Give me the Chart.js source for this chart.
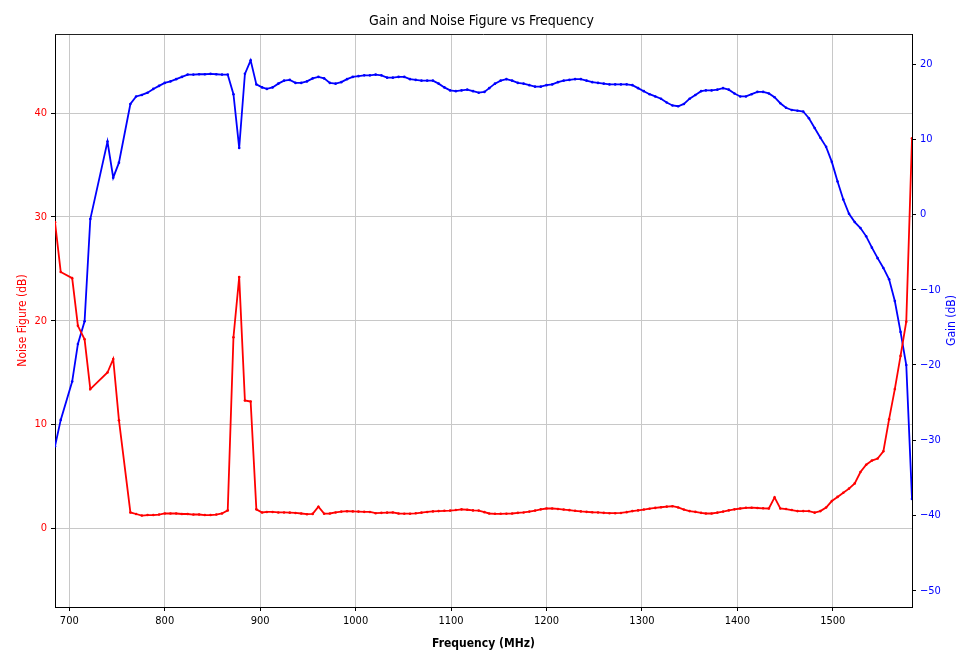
<!DOCTYPE html>
<html>
<head>
<meta charset="utf-8">
<script src="https://cdn.jsdelivr.net/npm/chart.js@4.4.1/dist/chart.umd.min.js"></script>
<style>
  html, body { margin: 0; padding: 0; background: #ffffff; }
  #wrap { width: 963px; height: 651px; }
</style>
</head>
<body>
<div id="wrap"><canvas id="c" width="963" height="651"></canvas></div>
<script>
// ---- Data ----
const freqMHz = [
  685,691,703,709,716,722,740,746,752,764,770,
  776,782,788,794,800,806,812,818,824,830,
  836,842,848,854,860,866,872,878,884,890,
  896,902,907,913,919,925,931,937,943,949,
  955,961,967,973,979,985,991,997,1003,1009,
  1015,1021,1027,1033,1039,1045,1051,1057,1063,1069,
  1075,1081,1087,1093,1099,1105,1111,1117,1123,1129,
  1135,1140,1146,1152,1158,1164,1170,1176,1182,1188,
  1194,1200,1206,1212,1218,1224,1230,1236,1242,1248,
  1254,1260,1266,1272,1278,1284,1290,1296,1302,1308,
  1314,1320,1326,1332,1338,1344,1350,1356,1362,1367,
  1373,1379,1385,1391,1397,1403,1409,1415,1421,1427,
  1433,1439,1445,1451,1457,1463,1469,1475,1481,1487,
  1493,1499,1505,1511,1517,1523,1529,1535,1541,1547,
  1553,1559,1565,1571,1577,1583
];

const noiseFigureDb = [
  29.5,24.7,24.1,19.5,18.2,13.4,15.0,16.3,10.4,1.5,1.35,
  1.2,1.25,1.25,1.3,1.4,1.4,1.4,1.35,1.35,1.3,
  1.3,1.25,1.25,1.3,1.4,1.7,18.4,24.2,12.3,12.2,
  1.8,1.5,1.55,1.55,1.5,1.5,1.48,1.45,1.4,1.33,
  1.36,2.05,1.38,1.4,1.5,1.58,1.62,1.6,1.58,1.56,
  1.55,1.43,1.46,1.48,1.5,1.4,1.38,1.38,1.42,1.48,
  1.55,1.6,1.63,1.66,1.68,1.73,1.8,1.76,1.7,1.68,
  1.53,1.4,1.37,1.37,1.38,1.4,1.46,1.5,1.58,1.68,
  1.8,1.88,1.88,1.84,1.78,1.72,1.66,1.6,1.56,1.52,
  1.5,1.46,1.43,1.43,1.45,1.53,1.63,1.7,1.78,1.86,
  1.94,2.0,2.06,2.1,1.98,1.78,1.63,1.56,1.46,1.4,
  1.4,1.48,1.58,1.7,1.8,1.88,1.95,1.96,1.93,1.9,
  1.88,2.95,1.88,1.83,1.73,1.63,1.63,1.63,1.48,1.63,
  1.98,2.6,3.0,3.4,3.8,4.3,5.4,6.1,6.5,6.7,
  7.4,10.5,13.4,16.6,19.9,37.6
];

const gainDb = [
  -30.8,-27.3,-22.2,-17.2,-14.2,-0.6,9.7,4.9,6.9,14.7,15.7,
  15.9,16.2,16.7,17.1,17.5,17.7,18.0,18.3,18.6,18.6,
  18.65,18.65,18.7,18.65,18.6,18.6,16.0,8.85,18.7,20.5,
  17.3,16.9,16.7,16.9,17.4,17.8,17.9,17.5,17.5,17.7,
  18.1,18.3,18.1,17.5,17.4,17.6,18.0,18.3,18.4,18.5,
  18.5,18.6,18.5,18.2,18.2,18.3,18.3,18.0,17.9,17.8,
  17.8,17.8,17.4,16.9,16.5,16.4,16.5,16.6,16.4,16.2,
  16.3,16.8,17.4,17.8,18.0,17.8,17.5,17.4,17.2,17.0,
  17.0,17.2,17.3,17.6,17.8,17.9,18.0,18.0,17.8,17.6,
  17.5,17.4,17.3,17.3,17.3,17.3,17.2,16.8,16.4,16.0,
  15.7,15.4,14.9,14.5,14.4,14.7,15.4,15.9,16.4,16.5,
  16.5,16.6,16.8,16.6,16.1,15.7,15.7,16.0,16.3,16.3,
  16.1,15.6,14.8,14.2,13.9,13.8,13.7,12.8,11.5,10.2,
  9.0,7.0,4.4,2.0,0.1,-1.0,-1.8,-2.9,-4.4,-5.8,
  -7.1,-8.6,-11.5,-15.6,-20.0,-37.8
];

const freqTicks = [700,800,900,1000,1100,1200,1300,1400,1500];
const nfTicks = [0,10,20,30,40];
const gainTicks = [-50,-40,-30,-20,-10,0,10,20];

// ---- Styling ----
const FONT = "'DejaVu Sans Condensed', 'Liberation Sans', 'DejaVu Sans', sans-serif";
const RED = '#ff0000';
const BLUE = '#0000ff';
const plain = v => String(v).replace('-', '\u2212');

const framePlugin = {
  id: 'frame',
  afterDraw(chart) {
    const { ctx, chartArea: a } = chart;
    ctx.save();
    ctx.strokeStyle = '#222';
    ctx.lineWidth = 1;
    ctx.beginPath();
    ctx.moveTo(a.left, Math.round(a.top) + 0.5);
    ctx.lineTo(a.right, Math.round(a.top) + 0.5);
    ctx.stroke();
    // right axis title, reading bottom to top
    ctx.fillStyle = BLUE;
    ctx.font = '12px ' + FONT;
    ctx.textAlign = 'center';
    ctx.textBaseline = 'middle';
    ctx.translate(952, (a.top + a.bottom) / 2);
    ctx.rotate(-Math.PI / 2);
    ctx.fillText('Gain (dB)', 0, 0);
    ctx.restore();
  }
};

new Chart(document.getElementById('c'), {
  type: 'line',
  data: {
    datasets: [
      {
        label: 'Noise Figure (dB)',
        data: freqMHz.map((f, i) => ({ x: f, y: noiseFigureDb[i] })),
        yAxisID: 'y',
        borderColor: RED,
        backgroundColor: RED,
        borderWidth: 1.8,
        pointRadius: 1.3,
        pointBorderWidth: 0,
        pointBackgroundColor: RED,
        tension: 0,
        fill: false
      },
      {
        label: 'Gain (dB)',
        data: freqMHz.map((f, i) => ({ x: f, y: gainDb[i] })),
        yAxisID: 'y1',
        borderColor: BLUE,
        backgroundColor: BLUE,
        borderWidth: 1.8,
        pointRadius: 1.3,
        pointBorderWidth: 0,
        pointBackgroundColor: BLUE,
        tension: 0,
        fill: false
      }
    ]
  },
  options: {
    responsive: false,
    animation: false,
    events: [],
    layout: { padding: 0 },
    plugins: {
      legend: { display: false },
      tooltip: { enabled: false },
      title: {
        display: true,
        text: 'Gain and Noise Figure vs Frequency',
        color: '#000',
        font: { family: FONT, size: 14, weight: 'normal' },
        padding: { top: 12.5, bottom: 4.7 }
      }
    },
    scales: {
      x: {
        type: 'linear',
        position: 'bottom',
        min: freqMHz[0],
        max: freqMHz[freqMHz.length - 1],
        afterBuildTicks: s => { s.ticks = freqTicks.map(v => ({ value: v })); },
        afterFit: s => { s.height = 44; },
        grid: { color: '#c8c8c8', lineWidth: 1, tickColor: '#000', tickLength: 4 },
        border: { color: '#000', width: 1 },
        ticks: { color: '#000', font: { family: FONT, size: 11 }, padding: 4, maxRotation: 0, autoSkip: false, callback: v => plain(v) },
        title: {
          display: true, text: 'Frequency (MHz)', color: '#000',
          font: { family: FONT, size: 12, weight: 'bold' },
          padding: { top: 0, bottom: 0 }
        }
      },
      y: {
        type: 'linear',
        position: 'left',
        min: -7.62,
        max: 47.65,
        afterBuildTicks: s => { s.ticks = nfTicks.map(v => ({ value: v })); },
        afterFit: s => { s.width = 55; },
        grid: { color: '#c8c8c8', lineWidth: 1, tickColor: '#000', tickLength: 4 },
        border: { color: '#000', width: 1 },
        ticks: { color: RED, font: { family: FONT, size: 11 }, padding: 4, callback: v => plain(v) },
        title: {
          display: true, text: 'Noise Figure (dB)', color: RED,
          font: { family: FONT, size: 12 },
          padding: { top: 15.5, bottom: 0 }
        }
      },
      y1: {
        type: 'linear',
        position: 'right',
        min: -52.17,
        max: 24.0,
        afterBuildTicks: s => { s.ticks = gainTicks.map(v => ({ value: v })); },
        afterFit: s => { s.width = 51; },
        grid: { drawOnChartArea: false, tickColor: '#000', tickLength: 4 },
        border: { color: '#000', width: 1 },
        ticks: { color: BLUE, font: { family: FONT, size: 11 }, padding: 4, callback: v => plain(v) },
        title: { display: false }
      }
    }
  },
  plugins: [framePlugin]
});
</script>
</body>
</html>
